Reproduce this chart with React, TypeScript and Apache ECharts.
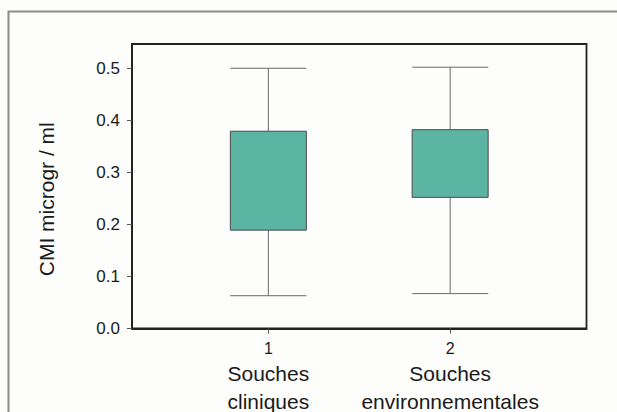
import React, { useEffect, useRef } from "react";
import * as echarts from "echarts";

const groupPositions = [1, 2];
const groupTickLabels = ["1", "2"];
const groupNames = [["Souches", "cliniques"], ["Souches", "environnementales"]];
const whiskerLow = [0.063, 0.067];
const quartile1 = [0.189, 0.252];
const quartile3 = [0.379, 0.382];
const whiskerHigh = [0.5, 0.502];
const yTicks = [0, 0.1, 0.2, 0.3, 0.4, 0.5];
const yTitle = "CMI microgr / ml";

export default function App() {
  const ref = useRef<HTMLDivElement>(null);
  useEffect(() => {
    if (!ref.current) return;
    document.body.style.margin = "0";
    document.body.style.overflow = "hidden";
    const chart = echarts.init(ref.current, null, { renderer: "svg" });
    const data = groupPositions.map((x, i) => [x, whiskerLow[i], quartile1[i], quartile3[i], whiskerHigh[i]]);
    const font = "'Liberation Sans', Arial, Helvetica, sans-serif";
    chart.setOption({
      animation: false,
      backgroundColor: "#fdfdfc",
      textStyle: { fontFamily: font },
      graphic: [
        {
          type: "rect",
          shape: { x: 8.5, y: 11.5, width: 1000, height: 1000 },
          style: { fill: "none", stroke: "#8c8c8c", lineWidth: 2 },
          silent: true,
        },
      ],
      grid: {
        left: 132,
        right: 30.5,
        top: 44,
        bottom: 83.5,
        show: true,
        borderColor: "#222",
        borderWidth: 1.8,
        backgroundColor: "transparent",
      },
      xAxis: {
        type: "value",
        min: 0.25,
        max: 2.75,
        splitLine: { show: false },
        axisLine: { show: true, lineStyle: { color: "#222", width: 1.8 } },
        axisTick: { show: true, length: 5, customValues: groupPositions, lineStyle: { color: "#555", width: 1 } },
        axisLabel: {
          customValues: groupPositions,
          margin: 9,
          color: "#1a1a1a",
          formatter: (v: number) => {
            const i = groupPositions.indexOf(Math.round(v));
            if (i < 0) return "";
            return `{n|${groupTickLabels[i]}}\n{c|${groupNames[i][0]}}\n{c|${groupNames[i][1]}}`;
          },
          rich: {
            n: { fontSize: 16, lineHeight: 22, fontFamily: font, color: "#1a1a1a" },
            c: { fontSize: 21, lineHeight: 28, fontFamily: font, color: "#1a1a1a" },
          },
        },
      },
      yAxis: {
        type: "value",
        min: 0,
        max: 0.5466,
        name: yTitle,
        nameLocation: "middle",
        nameRotate: 90,
        nameGap: 75,
        nameTextStyle: { fontSize: 21, color: "#1a1a1a", fontFamily: font, padding: [0, 26, 0, 0] },
        splitLine: { show: false },
        axisLine: { show: true, lineStyle: { color: "#222", width: 1.8 } },
        axisTick: { show: true, length: 5, customValues: yTicks, lineStyle: { color: "#555", width: 1 } },
        axisLabel: {
          customValues: yTicks,
          margin: 12,
          fontSize: 17,
          color: "#1a1a1a",
          formatter: (v: number) => v.toFixed(1),
        },
      },
      series: [
        {
          type: "custom",
          data,
          clip: false,
          renderItem: (params: any, api: any) => {
            const x = api.value(0);
            const lo = api.coord([x, api.value(1)]);
            const q1 = api.coord([x, api.value(2)]);
            const q3 = api.coord([x, api.value(3)]);
            const hi = api.coord([x, api.value(4)]);
            const halfW = 38;
            const cx = lo[0];
            const wStyle = { stroke: "#6a6a6a", lineWidth: 1 };
            return {
              type: "group",
              children: [
                { type: "line", shape: { x1: cx, y1: lo[1], x2: cx, y2: q1[1] }, style: wStyle },
                { type: "line", shape: { x1: cx, y1: q3[1], x2: cx, y2: hi[1] }, style: wStyle },
                { type: "line", shape: { x1: cx - halfW, y1: lo[1], x2: cx + halfW, y2: lo[1] }, style: wStyle },
                { type: "line", shape: { x1: cx - halfW, y1: hi[1], x2: cx + halfW, y2: hi[1] }, style: wStyle },
                {
                  type: "rect",
                  shape: { x: cx - halfW, y: q3[1], width: halfW * 2, height: q1[1] - q3[1] },
                  style: { fill: "#5bb5a2", stroke: "#4a4a4a", lineWidth: 1 },
                },
              ],
            };
          },
        },
      ],
    });
    return () => chart.dispose();
  }, []);
  return <div ref={ref} style={{ position: "fixed", left: 0, top: 0, width: 617, height: 412 }} />;
}
